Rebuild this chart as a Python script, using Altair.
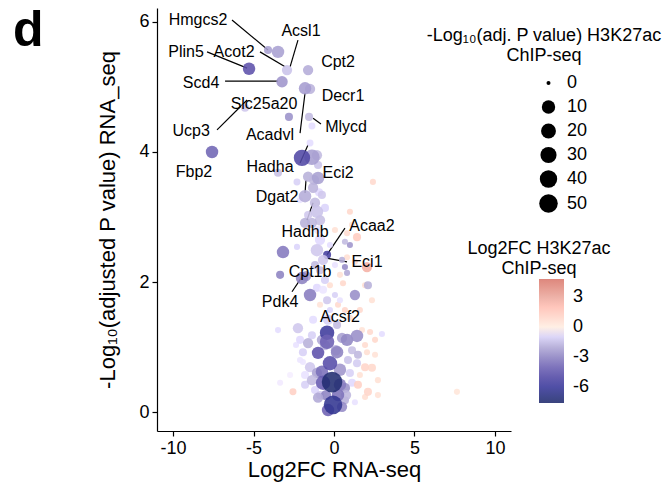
import altair as alt
import pandas as pd

# ---- point data ----
rna_lfc = [-4.10, -3.48, -2.92, -5.28, -1.61, -3.23, -1.80, -1.49, -5.53, -2.80,
           -1.55, -1.37, -7.58, -1.49, -1.99, -1.37, -1.06, -3.48, -2.30, -1.61,
           -0.99, -1.24, -0.93, -1.80, -1.18, -1.06, -1.61, -0.87, -1.37, -1.80,
           -3.17, -2.30, -1.06, -0.43, -0.68, -0.87, -0.99, -0.56, 2.42, 0.99,
           1.43, 0.81, 0.68, 0.99, 0.81, 2.05, 0.68, 0.81, 2.11, 1.30,
           0.56, 0.37, 1.12, -3.35, -1.99, -1.74, -1.49, -1.06, -0.68, -0.43,
           -0.87, -0.25, -0.87, -0.25, 0.06, 0.25, 0.68, 0.06, -3.48, -2.24,
           -0.43, 0.81, 1.43, 2.24, 2.98, -1.61, -1.93, -0.99, 0.50, -0.25,
           -1.49, 0.37, 1.93, 2.05, -1.06, -0.68, -0.12, 0.68, -0.06, 0.50,
           -1.18, 0.99, 1.12, 1.43, 1.93, 2.36, 1.49, 2.11, 1.93, 1.30,
           -2.55, -3.35, 7.64, -0.37, -0.56, -1.37, 0.12, -0.50, 0.25, -1.37,
           0.87, -1.93, 1.61, 2.55, 2.73, -2.11, -1.80, -0.87, 0.68, -0.75,
           0.19, -1.30, 1.12,
           -0.43, 0.19, -0.75, 0.37, -0.99, -0.37, 0.75, -1.80, -2.11, -2.36,
           -2.73, 1.49, 1.74, 0.99, 0.37, -0.56, -1.18, -0.25, 0.06, -0.75,
           -1.30, -2.11, -0.99, 1.61, 1.93, 1.30, 2.36, 0.50, 2.55, 2.73]
rna_padj = [5.57, 5.54, 5.26, 5.28, 5.26, 5.08, 4.98, 4.97, 4.68, 4.54,
            4.54, 4.40, 4.00, 4.14, 3.91, 3.92, 3.95, 3.68, 3.54, 3.62,
            3.60, 3.57, 3.38, 3.32, 3.22, 3.08, 3.03, 2.95, 2.91, 2.91,
            2.46, 2.54, 2.49, 2.42, 2.34, 2.65, 2.80, 3.14, 3.54, 3.08,
            2.69, 2.75, 2.62, 2.57, 2.38, 2.23, 2.23, 2.14, 1.95, 1.80,
            1.98, 2.11, 2.88, 2.11, 2.06, 2.09, 1.80, 1.91, 1.88, 1.72,
            1.65, 1.57, 2.18, 1.95, 1.80, 1.65, 1.57, 2.26, 1.26, 1.29,
            1.22, 1.11, 1.17, 1.23, 1.20, 1.06, 0.92, 0.91, 1.14, 0.75,
            0.69, 0.65, 1.03, 0.92, 0.60, 0.45, 0.46, 0.37, 0.11, 0.08,
            0.34, 0.60, 0.45, 0.75, 0.69, 0.68, 0.42, 0.31, 0.23, 0.15,
            0.31, 0.45, 0.31, 1.42, 1.03, 1.18, 0.95, 0.26, 0.26, 0.49,
            0.80, 0.77, 0.57, 0.88, 0.49, 1.11, 0.57, 0.26, 0.18, 1.11,
            1.34, 1.42, 0.95,
            1.08, 0.92, 0.62, 0.42, 0.22, 0.03, 0.26, 0.42, 0.80, 1.03,
            0.57, 0.88, 1.26, 1.45, 1.72, 2.03, 2.26, 2.57, 2.80, 3.34,
            3.45, 3.26, 3.80, 1.57, 1.95, 2.31, 1.72, 2.34, 1.11, 0.26]
chip_padj = [3, 8.5, 5.5, 8.5, 5.5, 7, 8.5, 5.5, 3, 3,
             3, 2, 8.5, 2, 32, 25, 5.5, 3, 2, 5.5,
             8.5, 5.5, 3, 8.5, 5.5, 8.5, 3, 5.5, 5.5, 5.5,
             8.5, 1.3, 8.5, 3, 5.5, 5.5, 3, 3, 1.3, 1.3,
             3, 1.3, 1.3, 1.3, 1.3, 5.5, 1.3, 1.3, 3, 5.5,
             1.3, 1.3, 1.3, 3, 8.5, 5.5, 8.5, 3, 3, 3,
             1.3, 1.3, 3, 1.3, 1.3, 1.3, 1.3, 1.3, 1.3, 5.5,
             17, 8.5, 8.5, 1.3, 1.3, 5.5, 3, 8.5, 5.5, 17,
             5.5, 8.5, 1.3, 1.3, 5.5, 17, 70, 5.5, 50, 5.5,
             3, 3, 3, 3, 3, 3, 3, 3, 1.3, 1.3,
             2, 1.3, 1.3, 5.5, 5.5, 3, 5.5, 5.5, 8.5, 5.5,
             3, 1.3, 1.3, 1.3, 1.3, 3, 3, 3, 3, 5.5,
             3, 3, 3,
             17, 8.5, 8.5, 8.5, 5.5, 8.5, 5.5, 3, 1.3, 1.3,
             1.3, 3, 1.3, 1.3, 1.3, 3, 3, 1.3, 1.3, 3,
             5.5, 1.3, 3, 1.3, 1.3, 1.3, 1.3, 1.3, 1.3, 1.3]
chip_lfc = [-2.2, -2.2, -1.3, -4.5, -1.9, -2.5, -2.3, -1.7, -1.2, -2.6,
            -1.5, -0.7, -3.9, -0.7, -5.0, -2.3, -1.5, -1.4, -1.0, -1.8,
            -2.2, -1.6, -0.8, -1.9, -1.5, -1.3, -1.2, -1.4, -1.6, -1.8,
            -3.3, -0.9, -1.2, -5.5, -1.2, -0.8, -0.6, -0.9, 0.8, 0.9,
            1.4, 0.7, -1.5, -2.5, 0.6, 2.6, -2.8, -2.0, -1.8, -2.7,
            0.9, 0.5, 0.5, -3.0, -3.0, -2.4, -3.2, -0.8, -0.5, -1.2,
            0.4, -0.9, -1.4, 0.6, -1.0, 0.8, 1.0, -0.6, -0.7, -1.2,
            -5.8, -2.9, -2.7, 0.8, -0.7, -1.8, -1.0, -4.5, -2.2, -4.8,
            -1.2, -2.5, 0.7, 0.6, -2.2, -4.2, -7.4, -2.6, -6.3, -2.8,
            -0.9, -1.0, -0.8, -1.1, 1.0, 0.9, 1.2, 1.0, 0.6, -0.6,
            1.2, -0.4, 0.3, -1.0, -1.6, -1.0, -1.9, -3.0, -3.5, -1.5,
            -1.3, -0.5, 0.5, 0.4, 0.5, -0.8, -0.6, -1.2, -1.8, -2.0,
            -1.5, -0.7, -1.4,
            -4.0, -3.0, -3.6, -3.2, -2.0, -4.0, -1.6, -1.0, -0.5, -0.6,
            -0.3, -1.6, 0.4, 0.7, -0.6, -1.0, -1.5, -0.7, 0.5, -1.2,
            -1.7, -0.6, -1.3, 0.8, 0.6, 0.7, 0.5, -1.8, 0.9, 0.4]

# ---- gene labels ----
gene_names = ["Hmgcs2", "Acsl1", "Plin5", "Acot2", "Cpt2", "Scd4", "Decr1", "Slc25a20",
              "Ucp3", "Acadvl", "Mlycd", "Fbp2", "Hadha", "Eci2", "Dgat2", "Hadhb",
              "Acaa2", "Eci1", "Cpt1b", "Pdk4", "Acsf2"]
gene_x = [-8.45, -2.05, -9.19, -6.21, 0.25, -8.26, 0.56, -4.35,
          -8.88, -3.98, 0.75, -8.70, -3.98, 0.25, -3.54, -1.80,
          2.36, 2.05, -1.49, -3.35, 0.37]
gene_y = [6.03, 5.86, 5.54, 5.54, 5.38, 5.06, 4.86, 4.74,
          4.32, 4.26, 4.38, 3.69, 3.77, 3.68, 3.31, 2.77,
          2.86, 2.31, 2.15, 1.69, 1.46]

# ---- leader lines ----
seg_x1 = [-6.34, -2.24, -7.89, -4.60, -6.77, -7.27, -2.11, -1.30, -1.61, -1.74, -1.30, 0.68, -0.56, -2.61]
seg_y1 = [6.03, 5.72, 5.54, 5.54, 5.09, 4.34, 4.29, 4.52, 4.11, 3.57, 3.22, 2.83, 2.37, 1.85]
seg_x2 = [-4.10, -2.73, -5.40, -3.04, -3.48, -5.40, -1.80, -0.81, -2.11, -1.80, -1.68, -0.43, 0.81, -1.99]
seg_y2 = [5.57, 5.31, 5.29, 5.31, 5.09, 4.80, 4.91, 4.43, 3.83, 3.37, 2.95, 2.42, 2.31, 2.08]

pts = pd.DataFrame({"x": rna_lfc, "y": rna_padj, "chip_p": chip_padj, "chip_lfc": chip_lfc})
labels = pd.DataFrame({"x": gene_x, "y": gene_y, "gene": gene_names})
segs = pd.DataFrame({"x": seg_x1, "y": seg_y1, "x2": seg_x2, "y2": seg_y2})

FONT = "Liberation Sans"

X = alt.X("x:Q", scale=alt.Scale(domain=[-11, 11], nice=False, zero=False),
          axis=alt.Axis(values=[-10, -5, 0, 5, 10], title="Log2FC RNA-seq",
                        labelExpr="'' + datum.value", titlePadding=2))
Y = alt.Y("y:Q", scale=alt.Scale(domain=[-0.292, 6.215], nice=False, zero=False),
          axis=alt.Axis(values=[0, 2, 4, 6], title="-Log\u2081\u2080(adjusted P value) RNA_seq",
                        labelExpr="'' + datum.value", titlePadding=19))

points = alt.Chart(pts).mark_circle(opacity=0.88).encode(
    x=X, y=Y,
    size=alt.Size("chip_p:Q",
                  scale=alt.Scale(domain=[0, 10, 50, 70], range=[16, 180, 343, 424]),
                  legend=alt.Legend(title=["-Log\u2081\u2080(adj. P value) H3K27ac", "ChIP-seq"],
                                    values=[0, 10, 20, 30, 40, 50],
                                    orient="none", legendX=270, legendY=19,
                                    titleAnchor="start", titleAlign="center", titleLimit=400,
                                    titlePadding=9,
                                    symbolFillColor="black", symbolStrokeWidth=0,
                                    symbolOpacity=1, symbolType="circle", symbolOffset=-5,
                                    rowPadding=6, labelOffset=9)),
    color=alt.Color("chip_lfc:Q",
                    scale=alt.Scale(domain=[-7.6, -6, -4.5, -3, -1.5, 0, 3, 4.8],
                                    range=["#1f2a6b", "#38379a", "#5d51ab", "#8d83c2", "#c2bbe0",
                                           "#ffffff", "#eba79c", "#d9776b"]),
                    legend=alt.Legend(title=["Log2FC H3K27ac", "ChIP-seq"],
                                      values=[3, 0, -3, -6], labelExpr="'' + datum.value",
                                      orient="none", legendX=310, legendY=232,
                                      direction="vertical", gradientLength=124, gradientThickness=25,
                                      titleAnchor="start", titleAlign="center", titleLimit=400,
                                      titlePadding=1, labelOffset=9)),
    order=alt.Order("chip_p:Q", sort="ascending"),
)

rules = alt.Chart(segs).mark_rule(color="black", strokeWidth=1.2).encode(
    x=X, y=Y, x2="x2:Q", y2="y2:Q")

texts = alt.Chart(labels).mark_text(font=FONT, fontSize=16, color="black",
                                    align="center", baseline="middle").encode(
    x=X, y=Y, text="gene:N")

chart = alt.layer(rules, points, texts).properties(
    width=354, height=423,
    autosize=alt.AutoSizeParams(type="none"),
    padding={"left": 149, "top": 0, "right": 151, "bottom": 52},
    title=alt.TitleParams("d", anchor="start", frame="group", fontSize=50, fontWeight="bold",
                          font=FONT, color="black", dx=-144, dy=52),
).configure_axis(
    domainColor="black", tickColor="black", labelColor="black", titleColor="black",
    labelFont=FONT, titleFont=FONT, labelFontSize=18, titleFontSize=22,
    titleFontWeight="normal", tickSize=5, domainWidth=1.2, tickWidth=1.2,
    grid=False, labelPadding=3,
).configure_legend(
    labelFont=FONT, titleFont=FONT, labelFontSize=18, titleFontSize=18,
    titleFontWeight="normal", labelColor="black", titleColor="black", padding=0,
).configure_view(stroke=None)

chart.save("out.html", embed_options={"renderer": "svg", "actions": False})
